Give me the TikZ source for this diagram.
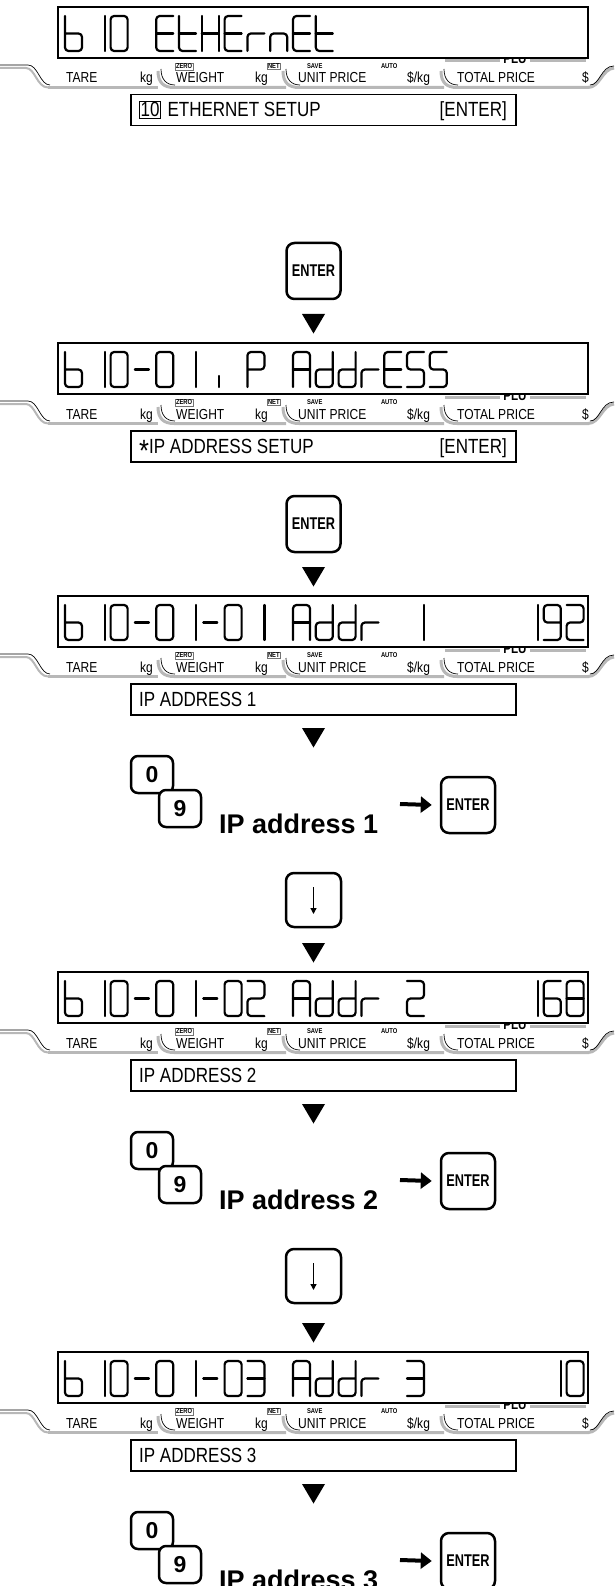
\documentclass[tikz,border=0pt]{standalone}
\usepackage{fontspec}
\setmainfont{Liberation Sans}
\newfontfamily\narrowf[FakeStretch=0.83]{Liberation Sans}
\newfontfamily\keyfont[FakeStretch=0.75]{Liberation Sans}
\usetikzlibrary{arrows.meta}

\tikzset{
  seg/.style={line width=2.2pt, line cap=round, line join=round, rounded corners=3.5pt},
  lcdbox/.style={draw, line width=1.4pt, fill=white, minimum width=530pt, minimum height=51pt, anchor=north west, inner sep=0pt, outer sep=0pt},
  msgframe/.style={draw, line width=1.5pt, minimum width=385pt, minimum height=31pt, anchor=north west, inner sep=0pt},
  msgtxt/.style={inner sep=0pt, font=\narrowf\fontsize{20.5}{20.5}\selectfont},
  lbl/.style={inner sep=0pt, anchor=base west, font=\narrowf\fontsize{14.5}{14.5}\selectfont},
  lblsmall/.style={inner sep=0.8pt, anchor=west, font=\narrowf\bfseries\fontsize{7}{7}\selectfont},
  greybar/.style={draw=black!28, line width=3pt},
  blkline/.style={draw=black, line width=0.7pt},
  keybox/.style={draw, line width=2.5pt, rounded corners=8pt, fill=white, minimum width=54pt, minimum height=56pt, inner sep=0pt, font=\keyfont\bfseries\fontsize{17}{17}\selectfont},
  keysmall/.style={keybox, minimum width=42pt, minimum height=37pt, rounded corners=7pt, font=\bfseries\fontsize{23}{23}\selectfont},
  addr/.style={inner sep=0pt, anchor=base west, font=\bfseries\fontsize{27}{27}\selectfont},
  bigarrow/.style={line width=4pt, -{Triangle[length=11pt, width=16pt]}},
  thinarrow/.style={line width=1.3pt, -{Triangle[length=6pt, width=6pt]}},
}

% seven-segment style glyphs, cell 17 x 35
\pgfkeys{
  /chr/.cd,
  b/.code={\draw[seg] (0,0)--(0,35)--(17,35)--(17,17.5)--(0,17.5);},
  d/.code={\draw[seg] (17,0)--(17,35)--(0,35)--(0,17.5)--(17,17.5);},
  r/.code={\draw[seg] (0,35)--(0,17.5)--(17,17.5);},
  n/.code={\draw[seg] (0,35)--(0,17.5)--(17,17.5)--(17,35);},
  t/.code={\draw[seg] (0,0)--(0,35)--(17,35); \draw[seg] (0,17.5)--(17,17.5);},
  i/.code={\draw[seg] (17,24)--(17,35);},
  E/.code={\draw[seg] (17,0)--(0,0)--(0,35)--(17,35); \draw[seg] (0,17.5)--(17,17.5);},
  H/.code={\draw[seg] (0,0)--(0,35); \draw[seg] (17,0)--(17,35); \draw[seg] (0,17.5)--(17,17.5);},
  P/.code={\draw[seg] (0,35)--(0,0)--(17,0)--(17,17.5)--(0,17.5);},
  A/.code={\draw[seg] (0,35)--(0,0)--(17,0)--(17,35); \draw[seg] (0,17.5)--(17,17.5);},
  S/.code={\draw[seg] (17,0)--(0,0)--(0,17.5)--(17,17.5)--(17,35)--(0,35);},
  m/.code={\draw[seg] (1.5,17.5)--(15.5,17.5);},
  0/.code={\draw[seg] (0,0) rectangle (17,35);},
  1/.code={\draw[seg] (17,0)--(17,35);},
  2/.code={\draw[seg] (0,0)--(17,0)--(17,17.5)--(0,17.5)--(0,35)--(17,35);},
  3/.code={\draw[seg] (0,0)--(17,0)--(17,35)--(0,35); \draw[seg] (0,17.5)--(17,17.5);},
  6/.code={\draw[seg] (17,0)--(0,0)--(0,35)--(17,35)--(17,17.5)--(0,17.5);},
  8/.code={\draw[seg] (0,0) rectangle (17,35); \draw[seg] (0,17.5)--(17,17.5);},
  9/.code={\draw[seg] (0,35)--(17,35)--(17,0)--(0,0)--(0,17.5)--(17,17.5);},
}

\newcommand\grp[2]{%
  \draw[greybar] (#1-2,64) .. controls (#1-2,76) and (#1+4,80.5) .. (#1+14,80.5) -- (#2,80.5);
  \draw[blkline] (#1+1,62) .. controls (#1+1,72) and (#1+6,78) .. (#1+15,78);}

% #1 = top y, #2 = name, #3 = cell/char list
\newcommand\panel[3]{%
  \begin{scope}[shift={(0,#1)}]
    \draw[greybar] (445,54)--(500,54) (530,54)--(586,54);
    \node[inner sep=0pt, anchor=base, font=\narrowf\bfseries\fontsize{14}{14}\selectfont] (#2plu) at (515,57) {PLU};
    \node[lcdbox] (#2) at (58,0) {};
    \foreach \cc/\kk in {#3}{%
      \begin{scope}[shift={(65+\cc*22.8,9)}]\pgfkeys{/chr/\kk}\end{scope}}
    % label strip
    \draw[draw=black!28, line width=2pt] (0,61) -- (26,61) .. controls (35,61) and (37,80.5) .. (48,80.5);
    \draw[blkline] (0,58) -- (28,58) .. controls (38,58) and (40,78) .. (50,78);
    \draw[greybar] (48,80.5) -- (158,80.5);
    \grp{160}{286}\grp{285}{444}\grp{443}{589}
    \draw[greybar] (588,80.5) .. controls (600,80.5) and (602,62) .. (614,61);
    \draw[blkline] (590,78) .. controls (600,78) and (601,59) .. (614,59);
    \node[lbl] (#2tare) at (66,76) {TARE};
    \node[lbl] (#2kga) at (140,76) {kg};
    \node[lbl] (#2wt) at (176,76) {WEIGHT};
    \node[lbl] (#2kgb) at (255,76) {kg};
    \node[lbl] (#2up) at (298,76) {UNIT PRICE};
    \node[lbl] (#2skg) at (407,76) {\$/kg};
    \node[lbl] (#2tp) at (457,76) {TOTAL PRICE};
    \node[lbl] (#2dol) at (582,76) {\$};
    \node[lblsmall, draw=black!55, line width=0.5pt] (#2zero) at (175,59.5) {ZERO};
    \node[lblsmall, draw=black!55, line width=0.5pt] (#2net) at (267,59.5) {NET};
    \node[lblsmall] (#2save) at (306,59.5) {SAVE};
    \node[lblsmall] (#2auto) at (380,59.5) {AUTO};
  \end{scope}}
\newcommand\downtri[1]{\fill (302,#1) -- (325,#1) -- (313.5,#1+19.5) -- cycle;}
% #1 = top y of panel, #2 = number
\newcommand\keygroup[2]{%
  \node[keysmall] (kz#2) at (152,#1+178.5) {0};
  \node[keysmall] (kn#2) at (180,#1+212.5) {9};
  \node[addr] (ip#2) at (219,#1+237) {IP address #2};
  \node[keybox] (ke#2) at (468,#1+209) {ENTER};
  \coordinate (as#2) at (400,#1+208);
  \draw[bigarrow] (as#2) -- ([xshift=-8pt]ke#2.west);}
\newcommand\downkey[2]{%
  \node[keybox, minimum width=55pt, minimum height=54pt] (dn#2) at (313.5,#1+304) {};
  \draw[thinarrow] ([yshift=13pt]dn#2.center) -- ([yshift=-14pt]dn#2.center);}

\begin{document}
\begin{tikzpicture}[x=1pt,y=-1pt]
\useasboundingbox (0,0) rectangle (614,1586);
\fill[white] (0,0) rectangle (614,1586);

% ---- panel 1
\panel{7}{lcdA}{0/b,1/1,2/0,4/E,5/t,6/H,7/E,8/r,9/n,10/E,11/t}
\node[msgframe] (msgA) at (130,94) {};
\node[msgtxt, draw, line width=1pt, inner sep=1.2pt, anchor=base west] (msgAn) at (139,117) {10};
\node[msgtxt, anchor=base west] (msgAl) at ([xshift=6pt]msgAn.base east) {ETHERNET SETUP};
\node[msgtxt, anchor=base east] (msgAr) at (507,117) {[ENTER]};

\node[keybox] (ent1) at (313.5,271) {ENTER};
\downtri{314}

% ---- panel 2
\panel{343}{lcdB}{0/b,1/1,2/0,3/m,4/0,5/1,6/i,8/P,10/A,11/d,12/d,13/r,14/E,15/S,16/S}
\node[msgframe] (msgB) at (130,430) {};
\node[msgtxt, anchor=base west] (msgBl) at (139,453) {\raisebox{-0.42em}{\scalebox{1.5}{*}}IP ADDRESS SETUP};
\node[msgtxt, anchor=base east] (msgBr) at (507,453) {[ENTER]};

\node[keybox] (ent2) at (313.5,524) {ENTER};
\downtri{567}

% ---- panel 3
\panel{596}{lcdC}{0/b,1/1,2/0,3/m,4/0,5/1,6/m,7/0,8/1,10/A,11/d,12/d,13/r,15/1,20/1,21/9,22/2}
\node[msgframe] (msgC) at (130,683) {};
\node[msgtxt, anchor=base west] (msgCl) at (139,706) {IP ADDRESS 1};
\downtri{728}
\keygroup{596}{1}
\downkey{596}{1}
\downtri{943}

% ---- panel 4
\panel{972}{lcdD}{0/b,1/1,2/0,3/m,4/0,5/1,6/m,7/0,8/2,10/A,11/d,12/d,13/r,15/2,20/1,21/6,22/8}
\node[msgframe] (msgD) at (130,1059) {};
\node[msgtxt, anchor=base west] (msgDl) at (139,1082) {IP ADDRESS 2};
\downtri{1104}
\keygroup{972}{2}
\downkey{972}{2}
\downtri{1323}

% ---- panel 5
\panel{1352}{lcdE}{0/b,1/1,2/0,3/m,4/0,5/1,6/m,7/0,8/3,10/A,11/d,12/d,13/r,15/3,21/1,22/0}
\node[msgframe] (msgE) at (130,1439) {};
\node[msgtxt, anchor=base west] (msgEl) at (139,1462) {IP ADDRESS 3};
\downtri{1484}
\keygroup{1352}{3}
\end{tikzpicture}
\end{document}
